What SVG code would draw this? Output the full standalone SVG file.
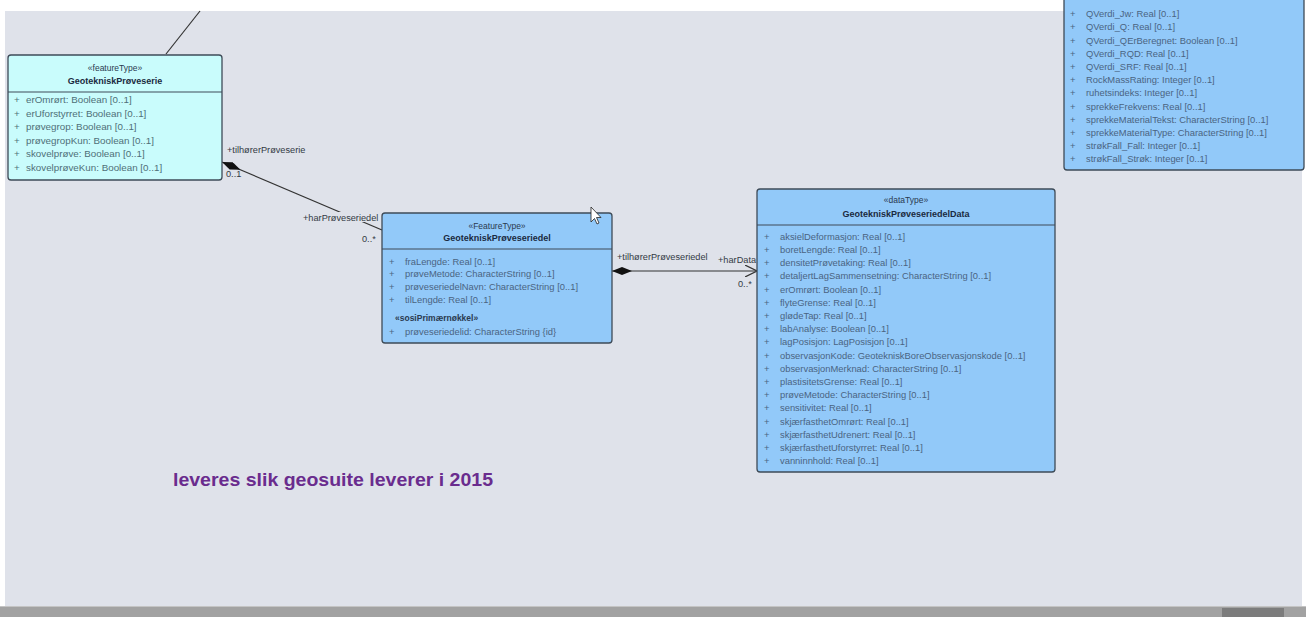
<svg xmlns="http://www.w3.org/2000/svg" width="1306" height="617" viewBox="0 0 1306 617">
<style>
.box{stroke:#3e4b58;stroke-width:1.3}
.cyan{fill:#c9fcfc}
.blue{fill:#92c9f9}
.sep{stroke:#3e4b58;stroke-width:1.2}
.st{font-family:"Liberation Sans",Arial,sans-serif;font-size:8.5px;fill:#2a3a50;text-anchor:middle}
.nm{font-family:"Liberation Sans",Arial,sans-serif;font-size:9px;font-weight:bold;fill:#1a2a40;text-anchor:middle}
.at{font-family:"Liberation Sans",Arial,sans-serif;font-size:9.4px;fill:#4a6482}
.atc{font-family:"Liberation Sans",Arial,sans-serif;font-size:9.8px;fill:#4f7078}
.grp{font-family:"Liberation Sans",Arial,sans-serif;font-size:8.5px;font-weight:bold;fill:#2a3a50}
.lbl{font-family:"Liberation Sans",Arial,sans-serif;font-size:9.2px;fill:#333a44}
.ln{stroke:#333;stroke-width:1.2;fill:none}
</style>
<defs>
<marker id="dia" viewBox="0 0 20 8" refX="0" refY="4" markerWidth="20" markerHeight="8" markerUnits="userSpaceOnUse" orient="auto">
<path d="M0,4 L10,0 L20,4 L10,8 Z" fill="#111"/>
</marker>
<marker id="open" viewBox="0 0 12 12" refX="12" refY="6" markerWidth="12" markerHeight="12" markerUnits="userSpaceOnUse" orient="auto">
<path d="M0,0 L12,6 L0,12" fill="none" stroke="#333" stroke-width="1.2"/>
</marker>
</defs>
<rect x="0" y="0" width="1306" height="617" fill="#ffffff"/>
<rect x="5" y="11" width="1297" height="596" fill="#dfe2ea"/>
<rect x="0" y="607" width="1306" height="10" fill="#a2a2a2"/>
<rect x="0" y="606" width="1306" height="1" fill="#c4c4c4"/>
<rect x="1222" y="608" width="62" height="9" fill="#7c7c7c"/>

<g id="connectors">
<line class="ln" x1="166" y1="54" x2="200" y2="11"/>
<line class="ln" x1="222" y1="162" x2="382" y2="230" marker-start="url(#dia)"/>
<line class="ln" x1="612" y1="271" x2="757" y2="271" marker-start="url(#dia)" marker-end="url(#open)"/>
<text class="lbl" x="227" y="153">+tilhørerPrøveserie</text>
<text class="lbl" x="226" y="177">0..1</text>
<rect x="302" y="212" width="80" height="10" fill="#dfe2ea"/>
<text class="lbl" x="303" y="221">+harPrøveseriedel</text>
<text class="lbl" x="362" y="242">0..*</text>
<text class="lbl" x="617" y="260">+tilhørerPrøveseriedel</text>
<text class="lbl" x="718" y="263">+harData</text>
<text class="lbl" x="738" y="287">0..*</text>
</g>

<g id="topright">
<rect class="box blue" x="1064" y="-10" width="240" height="180" rx="3"/>
<g class="at">
<text x="1070" y="17">+</text><text x="1086" y="17">QVerdi_Jw: Real [0..1]</text>
<text x="1070" y="30">+</text><text x="1086" y="30">QVerdi_Q: Real [0..1]</text>
<text x="1070" y="44">+</text><text x="1086" y="44">QVerdi_QErBeregnet: Boolean [0..1]</text>
<text x="1070" y="57">+</text><text x="1086" y="57">QVerdi_RQD: Real [0..1]</text>
<text x="1070" y="70">+</text><text x="1086" y="70">QVerdi_SRF: Real [0..1]</text>
<text x="1070" y="83">+</text><text x="1086" y="83">RockMassRating: Integer [0..1]</text>
<text x="1070" y="96">+</text><text x="1086" y="96">ruhetsindeks: Integer [0..1]</text>
<text x="1070" y="110">+</text><text x="1086" y="110">sprekkeFrekvens: Real [0..1]</text>
<text x="1070" y="123">+</text><text x="1086" y="123">sprekkeMaterialTekst: CharacterString [0..1]</text>
<text x="1070" y="136">+</text><text x="1086" y="136">sprekkeMaterialType: CharacterString [0..1]</text>
<text x="1070" y="149">+</text><text x="1086" y="149">strøkFall_Fall: Integer [0..1]</text>
<text x="1070" y="162">+</text><text x="1086" y="162">strøkFall_Strøk: Integer [0..1]</text>
</g>
</g>

<g id="GeotekniskProveserie">
<rect class="box cyan" x="8" y="55" width="214" height="125" rx="3"/>
<line class="sep" x1="8" y1="92" x2="222" y2="92"/>
<text class="st" x="115" y="71">«featureType»</text>
<text class="nm" x="115" y="84">GeotekniskPrøveserie</text>
<g class="atc">
<text x="14" y="103">+</text><text x="26" y="103">erOmrørt: Boolean [0..1]</text>
<text x="14" y="117">+</text><text x="26" y="117">erUforstyrret: Boolean [0..1]</text>
<text x="14" y="130">+</text><text x="26" y="130">prøvegrop: Boolean [0..1]</text>
<text x="14" y="144">+</text><text x="26" y="144">prøvegropKun: Boolean [0..1]</text>
<text x="14" y="157">+</text><text x="26" y="157">skovelprøve: Boolean [0..1]</text>
<text x="14" y="171">+</text><text x="26" y="171">skovelprøveKun: Boolean [0..1]</text>
</g>
</g>

<g id="GeotekniskProveseriedel">
<rect class="box blue" x="382" y="213" width="230" height="130" rx="3"/>
<line class="sep" x1="382" y1="249" x2="612" y2="249"/>
<text class="st" x="497" y="229">«FeatureType»</text>
<text class="nm" x="497" y="241">GeotekniskPrøveseriedel</text>
<g class="at">
<text x="389" y="265">+</text><text x="405" y="265">fraLengde: Real [0..1]</text>
<text x="389" y="277">+</text><text x="405" y="277">prøveMetode: CharacterString [0..1]</text>
<text x="389" y="290">+</text><text x="405" y="290">prøveseriedelNavn: CharacterString [0..1]</text>
<text x="389" y="303">+</text><text x="405" y="303">tilLengde: Real [0..1]</text>
<text x="389" y="335">+</text><text x="405" y="335">prøveseriedelid: CharacterString {id}</text>
</g>
<text class="grp" x="395" y="321">«sosiPrimærnøkkel»</text>
</g>

<g id="GeotekniskProveseriedelData">
<rect class="box blue" x="757" y="189" width="298" height="283" rx="3"/>
<line class="sep" x1="757" y1="225" x2="1055" y2="225"/>
<text class="st" x="906" y="203">«dataType»</text>
<text class="nm" x="906" y="217">GeotekniskPrøveseriedelData</text>
<g class="at">
<text x="764" y="240">+</text><text x="780" y="240">aksielDeformasjon: Real [0..1]</text>
<text x="764" y="253">+</text><text x="780" y="253">boretLengde: Real [0..1]</text>
<text x="764" y="266">+</text><text x="780" y="266">densitetPrøvetaking: Real [0..1]</text>
<text x="764" y="279">+</text><text x="780" y="279">detaljertLagSammensetning: CharacterString [0..1]</text>
<text x="764" y="293">+</text><text x="780" y="293">erOmrørt: Boolean [0..1]</text>
<text x="764" y="306">+</text><text x="780" y="306">flyteGrense: Real [0..1]</text>
<text x="764" y="319">+</text><text x="780" y="319">glødeTap: Real [0..1]</text>
<text x="764" y="332">+</text><text x="780" y="332">labAnalyse: Boolean [0..1]</text>
<text x="764" y="345">+</text><text x="780" y="345">lagPosisjon: LagPosisjon [0..1]</text>
<text x="764" y="359">+</text><text x="780" y="359">observasjonKode: GeotekniskBoreObservasjonskode [0..1]</text>
<text x="764" y="372">+</text><text x="780" y="372">observasjonMerknad: CharacterString [0..1]</text>
<text x="764" y="385">+</text><text x="780" y="385">plastisitetsGrense: Real [0..1]</text>
<text x="764" y="398">+</text><text x="780" y="398">prøveMetode: CharacterString [0..1]</text>
<text x="764" y="411">+</text><text x="780" y="411">sensitivitet: Real [0..1]</text>
<text x="764" y="425">+</text><text x="780" y="425">skjærfasthetOmrørt: Real [0..1]</text>
<text x="764" y="438">+</text><text x="780" y="438">skjærfasthetUdrenert: Real [0..1]</text>
<text x="764" y="451">+</text><text x="780" y="451">skjærfasthetUforstyrret: Real [0..1]</text>
<text x="764" y="464">+</text><text x="780" y="464">vanninnhold: Real [0..1]</text>
</g>
</g>

<text x="173" y="486" font-family="'Liberation Sans',Arial,sans-serif" font-size="19" font-weight="bold" fill="#6a2c8e" textLength="320" lengthAdjust="spacingAndGlyphs">leveres slik geosuite leverer i 2015</text>

<path d="M591,207 L591,222 L594.5,218.5 L597,224 L599,223 L596.5,217.5 L601,217.5 Z" fill="#ffffff" stroke="#222" stroke-width="0.8"/>
</svg>
